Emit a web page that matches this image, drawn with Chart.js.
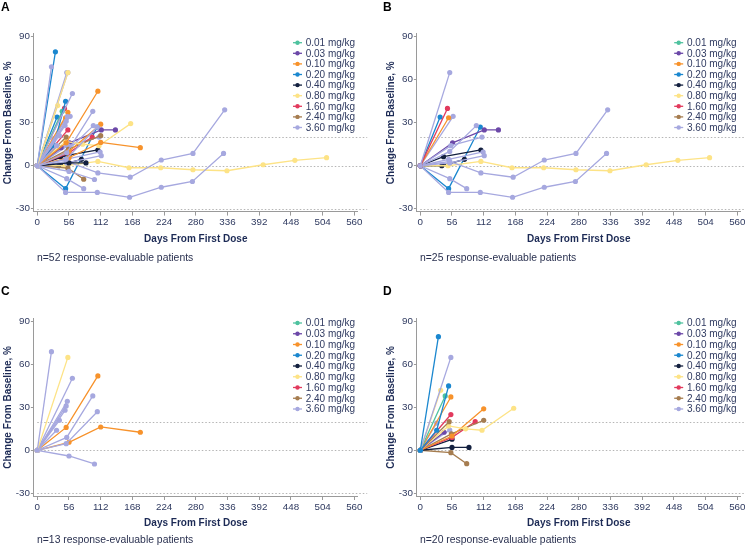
<!DOCTYPE html>
<html><head><meta charset="utf-8">
<script src="https://cdn.jsdelivr.net/npm/chart.js@4.4.1/dist/chart.umd.min.js"></script>
<style>
body{margin:0;width:745px;height:546px;background:#fff;position:relative;overflow:hidden;font-family:'Liberation Sans',Arial,sans-serif}
canvas{position:absolute}
.lt{position:absolute;font-weight:bold;font-size:12px;line-height:12px;color:#000}
.fn{position:absolute;font-size:10.4px;line-height:12px;color:#2a3150;white-space:nowrap}
</style></head><body>
<canvas id="cA" width="372" height="273" style="left:0;top:0"></canvas>
<canvas id="cB" width="372" height="273" style="left:383px;top:0"></canvas>
<canvas id="cC" width="372" height="273" style="left:0;top:273px"></canvas>
<canvas id="cD" width="372" height="273" style="left:383px;top:273px"></canvas>
<div class="lt" style="left:1px;top:1px">A</div>
<div class="lt" style="left:383px;top:1px">B</div>
<div class="lt" style="left:1px;top:285px">C</div>
<div class="lt" style="left:383px;top:285px">D</div>
<div class="fn" style="left:37px;top:252px">n=52 response-evaluable patients</div>
<div class="fn" style="left:420px;top:252px">n=25 response-evaluable patients</div>
<div class="fn" style="left:37px;top:534px">n=13 response-evaluable patients</div>
<div class="fn" style="left:420px;top:534px">n=20 response-evaluable patients</div>
<script>
// ---- data ----
const doseLabels = ['0.01 mg/kg','0.03 mg/kg','0.10 mg/kg','0.20 mg/kg','0.40 mg/kg','0.80 mg/kg','1.60 mg/kg','2.40 mg/kg','3.60 mg/kg'];
const doseColors = ['#4fc29f','#6c48a8','#f7922b','#1a87cf','#13203f','#fde386','#e23a5d','#a67d50','#a6a8df'];
const xTicks = [0,56,112,168,224,280,336,392,448,504,560];
const yTicks = [-30,0,30,60,90];
const refLines = [20,0,-30];

// each patient: [dose index, [[day, % change], ...]]
const patientsB = [
  [8, [[0,0],[52,65]]],
  [6, [[0,0],[48,40]]],
  [3, [[0,0],[35,34]]],
  [2, [[0,0],[50,33.5]]],
  [8, [[0,0],[58,34.5]]],
  [8, [[0,0],[52,10],[99,28]]],
  [8, [[0,0],[54,14],[109,20]]],
  [8, [[0,0],[50,4.5],[111,9.6]]],
  [8, [[0,0],[52,2],[113,7]]],
  [8, [[0,0],[52,3],[107,-5],[164,-8],[219,4],[275,8.6],[331,39]]],
  [8, [[0,0],[50,-18.6],[106,-18.6],[163,-22],[219,-15],[274,-11],[329,8.6]]],
  [8, [[0,0],[52,-9],[82,-16]]],
  [5, [[0,0],[49,0],[107,3],[162,-1.4],[218,-1.4],[275,-2.8],[335,-3.5],[399,0.7],[455,3.8],[511,5.6]]],
  [1, [[0,0],[57,16],[113,25],[138,25]]],
  [4, [[0,0],[41,6.3],[107,11]]],
  [4, [[0,0],[38,0],[78,4.5]]],
  [3, [[0,0],[50,-16],[106,27]]]
];
const patientsC = [
  [8, [[0,0],[25,69]]],
  [5, [[0,0],[54,65]]],
  [8, [[0,0],[62,50.4]]],
  [8, [[0,0],[52,9],[98,38]]],
  [8, [[0,0],[51,4.6],[106,27]]],
  [8, [[0,0],[53,34.3]]],
  [8, [[0,0],[51,31]]],
  [8, [[0,0],[49,28]]],
  [8, [[0,0],[39,21]]],
  [8, [[0,0],[34,14]]],
  [8, [[0,0],[56,-4],[101,-9.6]]],
  [2, [[0,0],[51,16],[107,52]]],
  [2, [[0,0],[56,5.6],[112,16.3],[182,12.6]]]
];
const patientsD = [
  [3, [[0,0],[32,79.5]]],
  [8, [[0,0],[54,65]]],
  [3, [[0,0],[29,14],[50,45]]],
  [5, [[0,0],[36,42]]],
  [0, [[0,0],[44,38]]],
  [2, [[0,0],[54,37.3]]],
  [6, [[0,0],[54,25]]],
  [7, [[0,0],[51,20]]],
  [8, [[0,0],[29,19]]],
  [5, [[0,0],[50,17],[80,15],[109,14],[165,29.4]]],
  [2, [[0,0],[56,10],[112,29]]],
  [7, [[0,0],[55,11.5],[112,21]]],
  [6, [[0,0],[56,9],[97,20]]],
  [1, [[0,0],[42,12.6]]],
  [8, [[0,0],[52,14.2]]],
  [4, [[0,0],[56,7.7]]],
  [4, [[0,0],[56,2],[86,2]]],
  [7, [[0,0],[54,-1.7],[82,-9.4]]]
];
const patientsA = [].concat(patientsC, patientsD, patientsB);

// ---- styling ----
const FONT = "'Liberation Sans', Arial, sans-serif";
const tickColor = '#2f3a60';
const titleColor = '#1c2a55';
const axisColor = '#9a9a9a';

const refPlugin = {
  id: 'refLines',
  beforeDatasetsDraw(chart) {
    const {ctx, chartArea, scales} = chart;
    ctx.save();
    ctx.strokeStyle = '#b5b5b5';
    ctx.lineWidth = 1;
    ctx.setLineDash([1.5, 2]);
    const x1 = scales.x.getPixelForValue(0);
    const x2 = chartArea.right + 9.5;
    refLines.forEach(v => {
      const y = Math.round(scales.y.getPixelForValue(v)) + 0.5;
      ctx.beginPath(); ctx.moveTo(x1, y); ctx.lineTo(x2, y); ctx.stroke();
    });
    ctx.restore();
  }
};

const legendPlugin = {
  id: 'doseLegend',
  afterDraw(chart, args, opts) {
    const ctx = chart.ctx;
    ctx.save();
    ctx.font = '10px ' + FONT;
    ctx.textBaseline = 'middle';
    doseLabels.forEach((lab, i) => {
      const y = opts.y0 + i * opts.dy;
      ctx.strokeStyle = doseColors[i];
      ctx.lineWidth = 1.3;
      ctx.beginPath(); ctx.moveTo(opts.x - 4.5, y); ctx.lineTo(opts.x + 4.5, y); ctx.stroke();
      ctx.fillStyle = doseColors[i];
      ctx.beginPath(); ctx.arc(opts.x, y, 2.2, 0, Math.PI * 2); ctx.fill();
      ctx.fillStyle = tickColor;
      ctx.fillText(lab, opts.tx, y + 0.5);
    });
    ctx.restore();
  }
};

function makeChart(id, patients, padTop, padBottom, leg) {
  const datasets = patients.map(p => ({
    data: p[1].map(d => ({x: d[0], y: d[1]})),
    showLine: true,
    borderColor: doseColors[p[0]],
    backgroundColor: doseColors[p[0]],
    borderWidth: 1.3,
    pointRadius: 2.6,
    pointBorderWidth: 0,
    pointHoverRadius: 2.6
  }));
  new Chart(document.getElementById(id), {
    type: 'scatter',
    data: {datasets},
    plugins: [refPlugin, legendPlugin],
    options: {
      responsive: false,
      animation: false,
      devicePixelRatio: 1,
      layout: {padding: {left: 0, top: padTop, right: 14.3, bottom: padBottom}},
      plugins: {
        legend: {display: false},
        tooltip: {enabled: false},
        doseLegend: leg
      },
      scales: {
        x: {
          type: 'linear', min: -6, max: 566,
          afterBuildTicks: s => { s.ticks = xTicks.map(v => ({value: v})); },
          afterFit: s => { s.height = 33.7; },
          ticks: {color: tickColor, font: {family: FONT, size: 9.8}, padding: 1, maxRotation: 0, autoSkip: false},
          grid: {drawOnChartArea: false, drawTicks: true, tickLength: 4, color: axisColor},
          border: {display: true, color: axisColor, width: 1},
          title: {display: true, text: 'Days From First Dose', color: titleColor, font: {family: FONT, size: 10, weight: 'bold'}, padding: {top: 0, bottom: 0}}
        },
        y: {
          type: 'linear', min: -32, max: 92,
          afterBuildTicks: s => { s.ticks = yTicks.map(v => ({value: v})); },
          afterFit: s => { s.width = 33.9; },
          ticks: {color: tickColor, font: {family: FONT, size: 9.8}, padding: 1},
          grid: {drawOnChartArea: false, drawTicks: true, tickLength: 3, color: axisColor},
          border: {display: true, color: axisColor, width: 1},
          title: {display: true, text: 'Change From Baseline, %', color: titleColor, font: {family: FONT, size: 10, weight: 'bold'}, padding: {top: 2, bottom: 0}}
        }
      }
    }
  });
}

makeChart('cA', patientsA, 33.9, 27.7, {x: 297.5, tx: 305.7, y0: 42.7, dy: 10.6});
makeChart('cB', patientsB, 33.9, 27.7, {x: 295.7, tx: 304, y0: 42.7, dy: 10.6});
makeChart('cC', patientsC, 45.8, 16.3, {x: 297.5, tx: 305.7, y0: 50, dy: 10.75});
makeChart('cD', patientsD, 45.8, 16.3, {x: 295.7, tx: 304, y0: 50, dy: 10.75});
</script>
</body></html>
